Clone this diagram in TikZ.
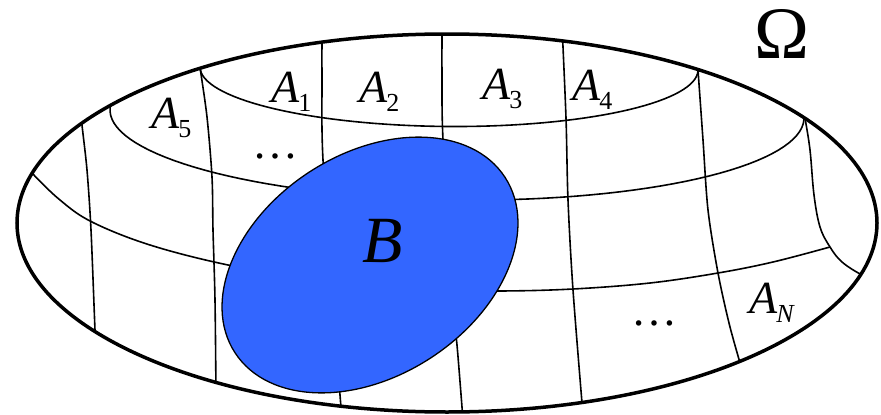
\documentclass[tikz,border=0pt]{standalone}
\usepackage{fontspec}
\setmainfont{Liberation Serif}
\definecolor{bblue}{RGB}{51,102,255}
\newcommand\Alab[1]{\textit{A}\kern-1pt\raisebox{-0.21em}{\fontsize{26}{28}\selectfont #1}}
\tikzset{
  outerline/.style={line width=3.5pt},
  gridline/.style={line width=1.6pt},
  blob/.style={fill=bblue, draw=black, line width=1.3pt},
  lab/.style={font=\fontsize{46}{50}\selectfont, inner sep=0pt, anchor=base west},
}
\begin{document}
\begin{tikzpicture}[x=1pt,y=-1pt]
\useasboundingbox (0,0) rectangle (881,415);
\begin{scope}
  \clip (447,223) ellipse[x radius=430pt, y radius=189pt];
  % rings
  \draw[gridline] plot[domain=-15:195, samples=80, variable=\t]
     ({449+249*cos(\t)}, {68.5+58*sin(\t)+0.006*249*cos(\t)});
  \draw[gridline] plot[domain=-15:195, samples=80, variable=\t]
     ({457+347*cos(\t)}, {114+86*sin(\t)+0.0115*347*cos(\t)});
  \draw[gridline] plot[smooth, tension=0.6] coordinates {(22,160) (32,173) (60,200) (92,222) (150,245) (228,265) (320,281) (420,290) (500,291) (573,289) (650,283) (718,273) (773,262) (830,247)};
  % right curve
  \draw[gridline] plot[smooth, tension=0.6] coordinates {(803,105) (805,118) (810,150) (814,195) (820,227) (830,247) (842,262) (862,275) (880,282)};
  % meridians
  \draw[gridline] plot[smooth] coordinates {(81,110) (82,125) (87,170) (91,230) (95,330) (96,345)};
  \draw[gridline] plot[smooth] coordinates {(199,55) (200,67) (207,117) (212,177) (213,230) (215,300) (216,395)};
  \draw[gridline] plot[smooth] coordinates {(322,30) (322,80) (323,160) (335,330) (342,420)};
  \draw[gridline] plot[smooth] coordinates {(442,25) (442,80) (443,140) (452,300) (457,345) (463,420)};
  \draw[gridline] plot[smooth] coordinates {(562,25) (566,118) (568,200) (573,290) (583,415)};
  \draw[gridline] plot[smooth] coordinates {(697,55) (698,70) (703,140) (708,210) (718,273) (730,327) (745,380)};
\end{scope}
% set B
\draw[blob, shift={(370,265)}, rotate=33] (0,0) ellipse[x radius=161pt, y radius=111pt];
% universe
\draw[outerline] (447,223) ellipse[x radius=430pt, y radius=189pt];
% labels
\node[lab] (a1) at (271,102) {\Alab{1}};
\node[lab] (a2) at (359,102) {\Alab{2}};
\node[lab] (a3) at (482,99) {\Alab{3}};
\node[lab] (a4) at (572,100) {\Alab{4}};
\node[lab] (a5) at (151,128) {\Alab{5}};
\node[lab] (an) at (749,313) {\Alab{\textit{N}}};
\node[lab, anchor=base] (d1) at (275,158) {\ldots};
\node[lab, anchor=base] (d2) at (654,325) {\ldots};
\node[lab, font=\fontsize{66}{70}\selectfont\itshape] (b) at (362,262) {B};
\node[lab, font=\fontsize{74}{78}\selectfont] (om) at (754,58) {Ω};
\end{tikzpicture}
\end{document}
